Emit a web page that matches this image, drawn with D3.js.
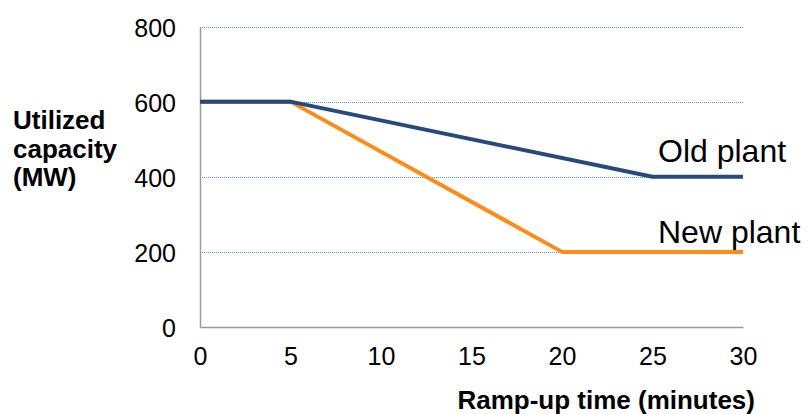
<!DOCTYPE html>
<html>
<head>
<meta charset="utf-8">
<script src="https://cdn.jsdelivr.net/npm/d3@7"></script>
<style>
  html, body { margin: 0; padding: 0; background: #fff; }
  svg { display: block; font-family: "Liberation Sans", Arial, sans-serif; }
</style>
</head>
<body>
<svg id="chart" width="808" height="414"></svg>
<script>
// Ramp-up time (minutes) versus utilized capacity (MW)
const oldPlantX = [0, 5, 25, 30];
const oldPlantY = [600, 600, 400, 400];
const newPlantX = [0, 5, 20, 30];
const newPlantY = [600, 600, 200, 200];
const xTicks = [0, 5, 10, 15, 20, 25, 30];
const yTicks = [0, 200, 400, 600, 800];
const seriesNames = ["Old plant", "New plant"];

const svg = d3.select("#chart");
const x = d3.scaleLinear().domain([0, 30]).range([200, 743]);
const y = d3.scaleLinear().domain([0, 800]).range([327, 26.5]);

// dotted horizontal gridlines
svg.append("g")
  .selectAll("line")
  .data(yTicks.filter(d => d > 0))
  .join("line")
  .attr("x1", x(0)).attr("x2", x(30))
  .attr("y1", d => Math.round(y(d)) + 0.5).attr("y2", d => Math.round(y(d)) + 0.5)
  .attr("stroke", "#5f8fcc")
  .attr("stroke-width", 1)
  .attr("stroke-dasharray", "1,1");

// axes
const yAxis = d3.axisLeft(y).tickValues(yTicks).tickSize(0).tickPadding(24);
const xAxis = d3.axisBottom(x).tickValues(xTicks).tickSize(0).tickPadding(20);

const gy = svg.append("g").attr("transform", `translate(${x(0)},0)`).call(yAxis);
const gx = svg.append("g").attr("transform", `translate(0,${y(0)})`).call(xAxis);
[gx, gy].forEach(g => {
  g.select(".domain").attr("stroke", "#9a9a9a").attr("stroke-width", 1.5);
  g.selectAll("text").attr("font-size", 25).attr("fill", "#000")
    .attr("font-family", "'Liberation Sans', Arial, sans-serif");
});
gy.selectAll("text").attr("dy", "0.38em");

// series lines
const line = d3.line().x(d => x(d[0])).y(d => y(d[1]));
const newPts = newPlantX.map((v, i) => [v, newPlantY[i]]);
const oldPts = oldPlantX.map((v, i) => [v, oldPlantY[i]]);

svg.append("path").datum(newPts).attr("d", line)
  .attr("fill", "none").attr("stroke", "#ff8c1a").attr("stroke-width", 4)
  .attr("stroke-linejoin", "round");
svg.append("path").datum(oldPts).attr("d", line)
  .attr("fill", "none").attr("stroke", "#264a7c").attr("stroke-width", 4)
  .attr("stroke-linejoin", "round");

// series labels
svg.append("text").attr("x", 658).attr("y", y(400) - 15)
  .attr("font-size", 32).text(seriesNames[0]);
svg.append("text").attr("x", 658).attr("y", y(200) - 9)
  .attr("font-size", 32).text(seriesNames[1]);

// axis titles
const yTitle = svg.append("text").attr("font-size", 26).attr("font-weight", "bold");
["Utilized", "capacity", "(MW)"].forEach((t, i) => {
  yTitle.append("tspan").attr("x", 13).attr("y", 129 + i * 28.5).text(t);
});
svg.append("text").attr("x", 755).attr("y", 409).attr("text-anchor", "end")
  .attr("font-size", 26).attr("font-weight", "bold").text("Ramp-up time (minutes)");
</script>
</body>
</html>
